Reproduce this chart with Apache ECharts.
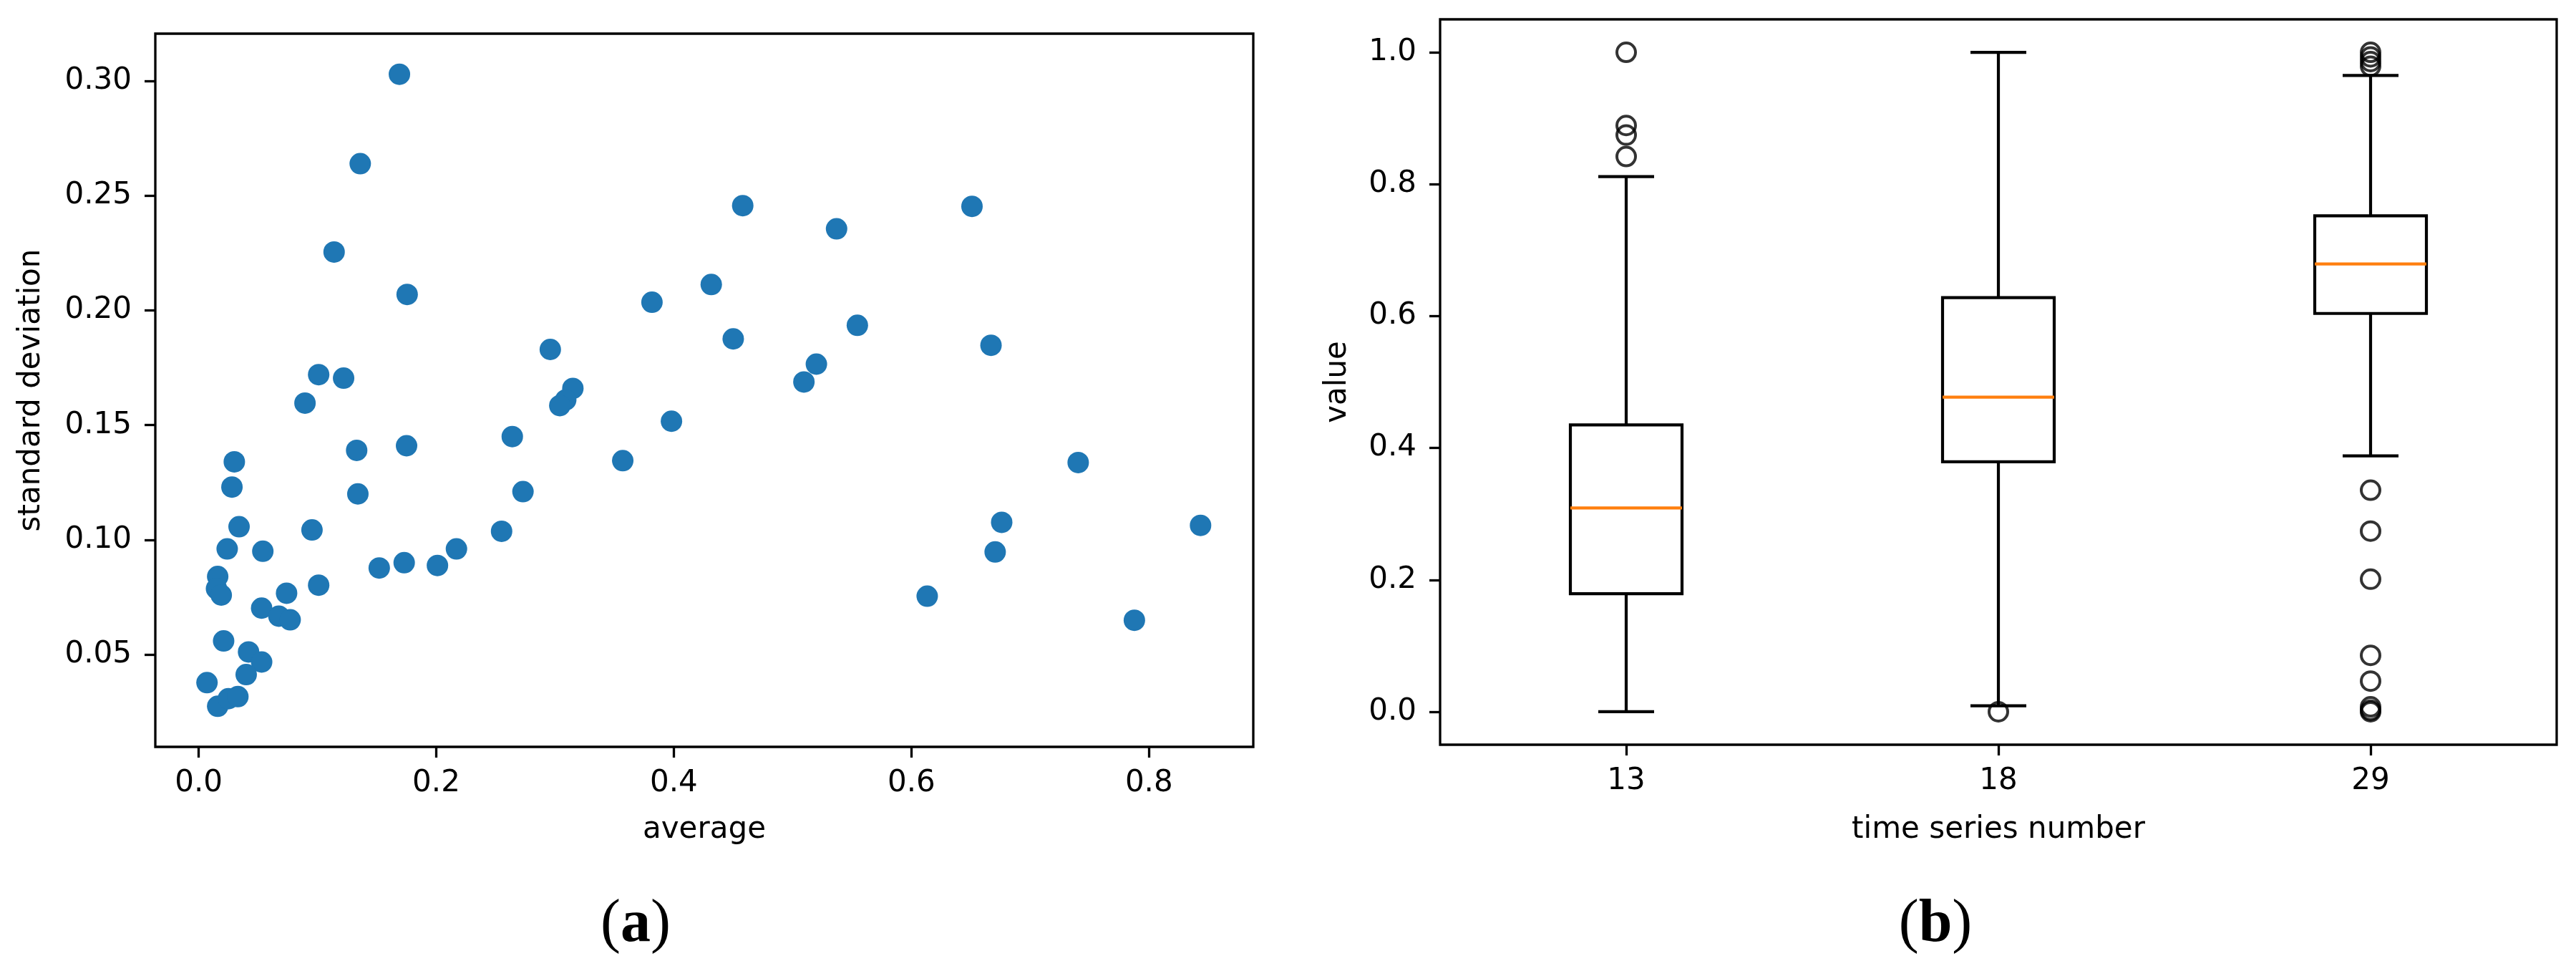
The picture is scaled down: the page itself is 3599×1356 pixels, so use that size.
<!DOCTYPE html>
<html>
<head>
<meta charset="utf-8">
<script src="https://cdn.jsdelivr.net/npm/echarts@6/dist/echarts.min.js"></script>
<style>
  html, body { margin: 0; padding: 0; background: #fff; }
  #main { width: 3599px; height: 1356px; }
</style>
</head>
<body>
<div id="main"></div>
<script>
// (a) scatter: average vs standard deviation
const avgValues = [
  0.169, 0.136, 0.114, 0.1755, 0.296, 0.101, 0.122, 0.0895, 0.315, 0.309,
  0.304, 0.264, 0.133, 0.175, 0.030, 0.357, 0.028, 0.273, 0.134, 0.034,
  0.0954, 0.255, 0.024, 0.054, 0.217, 0.016, 0.015, 0.019, 0.074, 0.101,
  0.152, 0.173, 0.201, 0.053, 0.0675, 0.077, 0.021, 0.042, 0.053, 0.040,
  0.007, 0.016, 0.025, 0.033, 0.458, 0.537, 0.651, 0.4315, 0.3816, 0.450,
  0.5545, 0.667, 0.520, 0.5095, 0.398, 0.7404, 0.676, 0.8434, 0.6705, 0.6133,
  0.7877
]
const stdValues = [
  0.303, 0.264, 0.2255, 0.207, 0.183, 0.172, 0.1705, 0.1596, 0.166, 0.161,
  0.1585, 0.145, 0.139, 0.141, 0.134, 0.1345, 0.123, 0.121, 0.120, 0.1057,
  0.1043, 0.1037, 0.096, 0.095, 0.096, 0.084, 0.0787, 0.0759, 0.0767, 0.0802,
  0.0877, 0.090, 0.0888, 0.0702, 0.0667, 0.0651, 0.0559, 0.0511, 0.0467, 0.0412,
  0.0377, 0.0274, 0.0307, 0.0316, 0.2457, 0.2356, 0.2454, 0.2113, 0.2036, 0.1876,
  0.1935, 0.1848, 0.1766, 0.1688, 0.1517, 0.1337, 0.1076, 0.1063, 0.0947, 0.0754,
  0.0649
]
const avgTicks = [0, 0.2, 0.4, 0.6, 0.8]
const stdTicks = [0.05, 0.10, 0.15, 0.20, 0.25, 0.30]

// (b) box plot: time series 13, 18, 29
const seriesNames = ['13', '18', '29']
// [lower whisker, Q1, median, Q3, upper whisker]
const boxStats = [
  [0.0, 0.179, 0.309, 0.435, 0.8115],
  [0.009, 0.379, 0.477, 0.628, 1.0],
  [0.388, 0.604, 0.679, 0.752, 0.965]
]
const outliers13 = [1.0, 0.889, 0.8745, 0.842]
const outliers18 = [0.0]
const outliers29 = [1.0, 0.993, 0.986, 0.979, 0.336, 0.274, 0.201, 0.0855, 0.0465, 0.0075, 0.0025, 0.0]
const valueTicks = [0, 0.2, 0.4, 0.6, 0.8, 1.0]

const FONT = 'DejaVu Sans'
const labelStyle = { fontFamily: FONT, fontSize: 42, color: '#000' }

const scatterData = avgValues.map((v, i) => [v, stdValues[i]])
const boxData = boxStats.map((s, i) => [i].concat(s))
const flierData = []
;[outliers13, outliers18, outliers29].forEach((list, i) => {
  list.forEach(v => flierData.push([i, v]))
})

function tickStyle(extra) {
  return Object.assign({ show: true, length: 15, lineStyle: { color: '#000', width: 3.3 } }, extra)
}

function baseAxis(extra) {
  return Object.assign({
    axisLine: { show: false, onZero: false },
    splitLine: { show: false },
    nameLocation: 'middle',
    nameTextStyle: labelStyle
  }, extra)
}

const chart = echarts.init(document.getElementById('main'))

chart.setOption({
  backgroundColor: '#fff',
  animation: false,
  grid: [
    { left: 217, top: 47, width: 1534, height: 996, show: true, borderColor: '#000', borderWidth: 3.3 },
    { left: 2012, top: 27, width: 1560, height: 1013, show: true, borderColor: '#000', borderWidth: 3.3 }
  ],
  xAxis: [
    baseAxis({
      type: 'value',
      gridIndex: 0,
      min: -0.0365,
      max: 0.8878,
      name: 'average',
      nameGap: 95,
      axisTick: tickStyle({ customValues: avgTicks }),
      axisLabel: Object.assign({ margin: 30, customValues: avgTicks, formatter: v => v.toFixed(1) }, labelStyle)
    }),
    baseAxis({
      type: 'category',
      gridIndex: 1,
      data: seriesNames,
      name: 'time series number',
      nameGap: 98,
      axisTick: tickStyle({ alignWithLabel: true }),
      axisLabel: Object.assign({ margin: 30 }, labelStyle)
    })
  ],
  yAxis: [
    baseAxis({
      type: 'value',
      gridIndex: 0,
      min: 0.0097,
      max: 0.3207,
      name: 'standard deviation',
      nameRotate: 90,
      nameGap: 152,
      axisTick: tickStyle({ customValues: stdTicks }),
      axisLabel: Object.assign({ margin: 33, customValues: stdTicks, formatter: v => v.toFixed(2) }, labelStyle)
    }),
    baseAxis({
      type: 'value',
      gridIndex: 1,
      min: -0.05,
      max: 1.05,
      name: 'value',
      nameRotate: 90,
      nameGap: 122,
      axisTick: tickStyle({ customValues: valueTicks }),
      axisLabel: Object.assign({ margin: 33, customValues: valueTicks, formatter: v => v.toFixed(1) }, labelStyle)
    })
  ],
  series: [
    {
      type: 'scatter',
      xAxisIndex: 0,
      yAxisIndex: 0,
      symbolSize: 30,
      itemStyle: { color: '#1f77b4', opacity: 1 },
      data: scatterData
    },
    {
      // matplotlib-style boxes: half-width caps, orange median
      type: 'custom',
      xAxisIndex: 1,
      yAxisIndex: 1,
      encode: { x: 0, y: [1, 2, 3, 4, 5] },
      renderItem: function (params, api) {
        const idx = api.value(0)
        const low = api.coord([idx, api.value(1)])
        const q1 = api.coord([idx, api.value(2)])
        const med = api.coord([idx, api.value(3)])
        const q3 = api.coord([idx, api.value(4)])
        const high = api.coord([idx, api.value(5)])
        const bw = api.size([1, 0])[0] * 0.3
        const cw = bw / 2
        const cx = med[0]
        const black = { stroke: '#000', lineWidth: 4.2, fill: null }
        return {
          type: 'group',
          children: [
            { type: 'line', shape: { x1: cx, y1: low[1], x2: cx, y2: q1[1] }, style: black },
            { type: 'line', shape: { x1: cx, y1: q3[1], x2: cx, y2: high[1] }, style: black },
            { type: 'line', shape: { x1: cx - cw / 2, y1: low[1], x2: cx + cw / 2, y2: low[1] }, style: black },
            { type: 'line', shape: { x1: cx - cw / 2, y1: high[1], x2: cx + cw / 2, y2: high[1] }, style: black },
            { type: 'rect', shape: { x: cx - bw / 2, y: q3[1], width: bw, height: q1[1] - q3[1] }, style: black },
            { type: 'line', shape: { x1: cx - bw / 2, y1: med[1], x2: cx + bw / 2, y2: med[1] }, style: { stroke: '#ff7f0e', lineWidth: 4.2 } }
          ]
        }
      },
      data: boxData
    },
    {
      type: 'scatter',
      xAxisIndex: 1,
      yAxisIndex: 1,
      symbol: 'circle',
      symbolSize: 26,
      itemStyle: { color: 'rgba(0,0,0,0)', borderColor: '#000', borderWidth: 4 },
      data: flierData
    }
  ],
  graphic: [
    {
      type: 'text',
      x: 888,
      y: 1292,
      style: {
        text: '{p|(}{b|a}{p|)}',
        align: 'center',
        verticalAlign: 'middle',
        rich: {
          p: { fontFamily: 'Liberation Serif', fontSize: 84, fill: '#000' },
          b: { fontFamily: 'Liberation Serif', fontSize: 84, fontWeight: 'bold', fill: '#000' }
        }
      }
    },
    {
      type: 'text',
      x: 2704,
      y: 1292,
      style: {
        text: '{p|(}{b|b}{p|)}',
        align: 'center',
        verticalAlign: 'middle',
        rich: {
          p: { fontFamily: 'Liberation Serif', fontSize: 84, fill: '#000' },
          b: { fontFamily: 'Liberation Serif', fontSize: 84, fontWeight: 'bold', fill: '#000' }
        }
      }
    }
  ]
})
</script>
</body>
</html>
